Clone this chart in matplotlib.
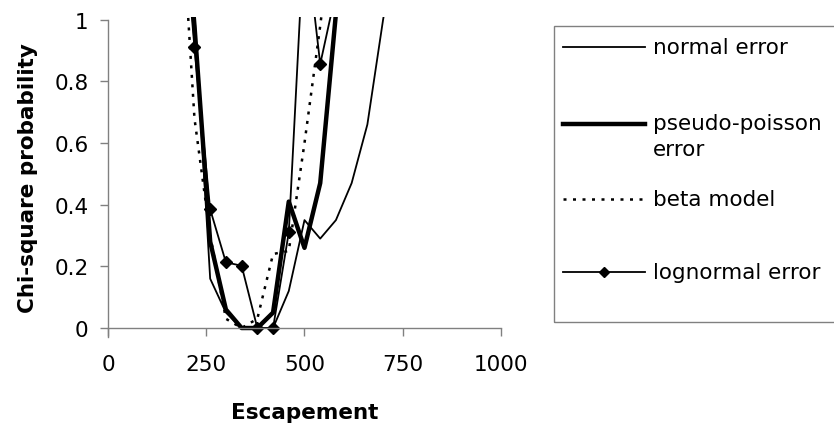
import numpy as np
import matplotlib.pyplot as plt
from matplotlib.lines import Line2D
from matplotlib.patches import Rectangle

plt.rcParams['font.family'] = ['DejaVu Sans']

# escapement grid and chi-square probabilities (values > 1 are clipped by the axis)
escapement = [180, 220, 260, 300, 340, 380, 420, 460, 500, 540, 580, 620, 660, 700, 740]
normal_error = [1.6, 1.02, 0.16, 0.05, 0.0, 0.0, 0.0, 0.12, 0.35, 0.29, 0.35, 0.47, 0.66, 1.0, 1.3]
pseudo_poisson = [1.6, 0.98, 0.28, 0.06, 0.0, 0.0, 0.05, 0.41, 0.26, 0.47, 1.02, 1.5, np.nan, np.nan, np.nan]
beta_model = [1.5, 0.68, 0.30, 0.03, 0.0, 0.03, 0.24, 0.25, 0.60, 0.98, 1.4, np.nan, np.nan, np.nan, np.nan]
lognormal = [1.5, 0.91, 0.385, 0.213, 0.202, 0.0, 0.0, 0.31, 1.30, 0.856, 1.09, 1.4, np.nan, np.nan, np.nan]

x_ticks = [0, 250, 500, 750, 1000]
y_ticks = [0, 0.2, 0.4, 0.6, 0.8, 1]
y_labels = ['0', '0.2', '0.4', '0.6', '0.8', '1']

labels = ['normal error', 'pseudo-poisson\nerror', 'beta model', 'lognormal error']
styles = [
    dict(color='black', lw=1.3, ls='-'),
    dict(color='black', lw=3.2, ls='-'),
    dict(color='black', lw=1.8, ls=(0, (1.2, 2.6))),
    dict(color='black', lw=1.3, ls='-', marker='D', ms=6),
]

grey = '#808080'
fs = 15.5

fig = plt.figure(figsize=(8.34, 4.27), dpi=100)
ax = fig.add_axes([0.1295, 0.2078, 0.4712, 0.7510])

for ys, st in zip([normal_error, pseudo_poisson, beta_model, lognormal], styles):
    ax.plot(escapement, ys, **st)

ax.set_xlim(0, 1000)
ax.set_ylim(-0.03, 1.01)
ax.spines['top'].set_visible(False)
ax.spines['right'].set_visible(False)
ax.spines['bottom'].set_position(('data', 0))
ax.spines['left'].set_bounds(-0.03, 1)
for s in ['left', 'bottom']:
    ax.spines[s].set_color(grey)
    ax.spines[s].set_linewidth(1.0)

ax.set_xticks(x_ticks)
ax.set_yticks(y_ticks)
ax.set_yticklabels(y_labels)
ax.tick_params(axis='both', direction='out', length=6, width=1.0, color=grey, labelsize=fs)
ax.tick_params(axis='x', pad=13)
ax.tick_params(axis='y', pad=8)

ax.set_xlabel('Escapement', fontsize=fs, fontweight='bold', labelpad=20)
ax.set_ylabel('Chi-square probability', fontsize=fs, fontweight='bold', labelpad=12)

# legend box drawn in figure pixels (Excel style layout)
W, H = 834.0, 427.0
fig.add_artist(Rectangle((554 / W, 1 - 323 / H), 300 / W, (323 - 27) / H,
                         transform=fig.transFigure, fill=False, ec=grey, lw=1.0))
rows = [48, 125, 200, 273]
for lab, st, yp in zip(labels, styles, rows):
    yf = 1 - yp / H
    ln = Line2D([563 / W, 645 / W], [yf, yf], transform=fig.transFigure, **st)
    if 'marker' in st:
        ln.set_markevery([1])
        ln.set_data([563 / W, 604 / W, 645 / W], [yf, yf, yf])
        ln.set_markersize(5)
    fig.add_artist(ln)
    if '\n' in lab:
        fig.text(653 / W, 1 - (yp - 11) / H, lab, fontsize=fs, va='top', ha='left', linespacing=1.4)
    else:
        fig.text(653 / W, yf, lab, fontsize=fs, va='center', ha='left')

fig.savefig('out.png', dpi=100)
